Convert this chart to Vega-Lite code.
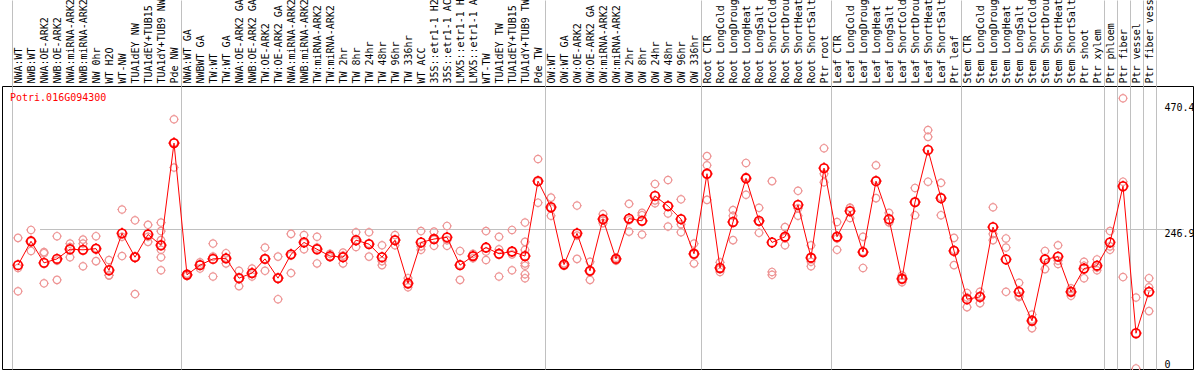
{
  "$schema": "https://vega.github.io/schema/vega-lite/v6.json",
  "width": 1191,
  "height": 283,
  "autosize": {"type": "none"},
  "padding": {"left": 2, "top": 86, "right": 1, "bottom": 1},
  "background": "white",
  "title": {"text": "Potri.016G094300", "orient": "top", "anchor": "start", "frame": "group", "baseline": "top", "offset": 0, "dx": 8, "dy": 122, "color": "#ff0000", "font": "DejaVu Sans Mono", "fontSize": 10, "fontWeight": "normal"},
  "config": {"view": {"stroke": "black", "strokeWidth": 1}, "font": "DejaVu Sans Mono"},
  "datasets": {
    "means": [
      {"cond": "NWA:WT", "v": 183}, {"cond": "NWB:WT", "v": 225}, {"cond": "NWA:OE-ARK2", "v": 187}, {"cond": "NWB:OE-ARK2", "v": 194},
      {"cond": "NWA:miRNA-ARK2", "v": 211}, {"cond": "NWB:miRNA-ARK2", "v": 210}, {"cond": "NW 0hr", "v": 212}, {"cond": "WT H2O", "v": 174},
      {"cond": "WT-NW", "v": 239}, {"cond": "TUA1dEY NW", "v": 197}, {"cond": "TUA1dEY+TUB15 NW", "v": 237}, {"cond": "TUA1dY+TUB9 NW", "v": 218},
      {"cond": "Pde NW", "v": 398}, {"cond": "NWA:WT GA", "v": 166}, {"cond": "NWBWT GA", "v": 183}, {"cond": "TW:WT", "v": 194},
      {"cond": "TW:WT GA", "v": 195}, {"cond": "NWA:OE-ARK2 GA", "v": 160}, {"cond": "NWB:OE-ARK2 GA", "v": 169}, {"cond": "TW:OE-ARK2", "v": 194},
      {"cond": "TW:OE-ARK2 GA", "v": 160}, {"cond": "NWA:miRNA-ARK2 GA", "v": 202}, {"cond": "NWB:miRNA-ARK2 GA", "v": 223}, {"cond": "TW:miRNA-ARK2", "v": 211},
      {"cond": "TW:miRNA-ARK2 ", "v": 199}, {"cond": "TW 2hr", "v": 197}, {"cond": "TW 8hr", "v": 227}, {"cond": "TW 24hr", "v": 220},
      {"cond": "TW 48hr", "v": 197}, {"cond": "TW 96hr", "v": 227}, {"cond": "TW 336hr", "v": 151}, {"cond": "WT ACC", "v": 223},
      {"cond": "35S::etr1-1 H2O", "v": 229}, {"cond": "35S::etr1-1 ACC", "v": 232}, {"cond": "LMX5::etr1-1 H2O", "v": 183}, {"cond": "LMX5::etr1-1 ACC", "v": 199},
      {"cond": "WT-TW", "v": 214}, {"cond": "TUA1dEY TW", "v": 203}, {"cond": "TUA1dEY+TUB15 TW", "v": 207}, {"cond": "TUA1dY+TUB9 TW", "v": 199},
      {"cond": "Pde TW", "v": 331}, {"cond": "OW:WT", "v": 285}, {"cond": "OW:WT GA", "v": 184}, {"cond": "OW:OE-ARK2", "v": 239},
      {"cond": "OW:OE-ARK2 GA", "v": 173}, {"cond": "OW:miRNA-ARK2", "v": 264}, {"cond": "OW:miRNA-ARK2 ", "v": 194}, {"cond": "OW 2hr", "v": 265},
      {"cond": "OW 8hr", "v": 261}, {"cond": "OW 24hr", "v": 305}, {"cond": "OW 48hr", "v": 287}, {"cond": "OW 96hr", "v": 264},
      {"cond": "OW 336hr", "v": 203}, {"cond": "Root CTR", "v": 344}, {"cond": "Root LongCold", "v": 178}, {"cond": "Root LongDrought", "v": 259},
      {"cond": "Root LongHeat", "v": 336}, {"cond": "Root LongSalt", "v": 261}, {"cond": "Root ShortCold", "v": 223}, {"cond": "Root ShortDrought", "v": 233},
      {"cond": "Root ShortHeat", "v": 289}, {"cond": "Root ShortSalt", "v": 196}, {"cond": "Ptr root", "v": 354}, {"cond": "Leaf CTR", "v": 233},
      {"cond": "Leaf LongCold", "v": 278}, {"cond": "Leaf LongDrought", "v": 206}, {"cond": "Leaf LongHeat", "v": 331}, {"cond": "Leaf LongSalt", "v": 264},
      {"cond": "Leaf ShortCold", "v": 159}, {"cond": "Leaf ShortDrought", "v": 294}, {"cond": "Leaf ShortHeat", "v": 386}, {"cond": "Leaf ShortSalt", "v": 301},
      {"cond": "Ptr leaf", "v": 208}, {"cond": "Stem CTR", "v": 123}, {"cond": "Stem LongCold", "v": 127}, {"cond": "Stem LongDrought", "v": 250},
      {"cond": "Stem LongHeat", "v": 193}, {"cond": "Stem LongSalt", "v": 136}, {"cond": "Stem ShortCold", "v": 85}, {"cond": "Stem ShortDrought", "v": 193},
      {"cond": "Stem ShortHeat", "v": 198}, {"cond": "Stem ShortSalt", "v": 136}, {"cond": "Ptr shoot", "v": 177}, {"cond": "Ptr xylem", "v": 182},
      {"cond": "Ptr phloem", "v": 223}, {"cond": "Ptr fiber", "v": 322}, {"cond": "Ptr vessel", "v": 63}, {"cond": "Ptr fiber vessel", "v": 136}
    ],
    "reps": [
      {"cond": "NWA:WT", "v": 231}, {"cond": "NWA:WT", "v": 178}, {"cond": "NWA:WT", "v": 137},
      {"cond": "NWB:WT", "v": 245}, {"cond": "NWB:WT", "v": 225}, {"cond": "NWB:WT", "v": 208},
      {"cond": "NWA:OE-ARK2", "v": 206}, {"cond": "NWA:OE-ARK2", "v": 204}, {"cond": "NWA:OE-ARK2", "v": 151},
      {"cond": "NWB:OE-ARK2", "v": 234}, {"cond": "NWB:OE-ARK2", "v": 191}, {"cond": "NWB:OE-ARK2", "v": 157},
      {"cond": "NWA:miRNA-ARK2", "v": 221}, {"cond": "NWA:miRNA-ARK2", "v": 215}, {"cond": "NWA:miRNA-ARK2", "v": 197},
      {"cond": "NWB:miRNA-ARK2", "v": 228}, {"cond": "NWB:miRNA-ARK2", "v": 221}, {"cond": "NWB:miRNA-ARK2", "v": 181},
      {"cond": "NW 0hr", "v": 234}, {"cond": "NW 0hr", "v": 213}, {"cond": "NW 0hr", "v": 190},
      {"cond": "WT H2O", "v": 192}, {"cond": "WT H2O", "v": 165}, {"cond": "WT H2O", "v": 165},
      {"cond": "WT-NW", "v": 281}, {"cond": "WT-NW", "v": 233}, {"cond": "WT-NW", "v": 199},
      {"cond": "TUA1dEY NW", "v": 262}, {"cond": "TUA1dEY NW", "v": 197}, {"cond": "TUA1dEY NW", "v": 132},
      {"cond": "TUA1dEY+TUB15 NW", "v": 254}, {"cond": "TUA1dEY+TUB15 NW", "v": 233}, {"cond": "TUA1dEY+TUB15 NW", "v": 224},
      {"cond": "TUA1dY+TUB9 NW", "v": 258}, {"cond": "TUA1dY+TUB9 NW", "v": 243}, {"cond": "TUA1dY+TUB9 NW", "v": 227}, {"cond": "TUA1dY+TUB9 NW", "v": 210}, {"cond": "TUA1dY+TUB9 NW", "v": 197}, {"cond": "TUA1dY+TUB9 NW", "v": 174},
      {"cond": "Pde NW", "v": 440}, {"cond": "Pde NW", "v": 399}, {"cond": "Pde NW", "v": 355},
      {"cond": "NWA:WT GA", "v": 168}, {"cond": "NWA:WT GA", "v": 166}, {"cond": "NWA:WT GA", "v": 164},
      {"cond": "NWBWT GA", "v": 188}, {"cond": "NWBWT GA", "v": 184}, {"cond": "NWBWT GA", "v": 177},
      {"cond": "TW:WT", "v": 221}, {"cond": "TW:WT", "v": 198}, {"cond": "TW:WT", "v": 163},
      {"cond": "TW:WT GA", "v": 204}, {"cond": "TW:WT GA", "v": 195}, {"cond": "TW:WT GA", "v": 186},
      {"cond": "NWA:OE-ARK2 GA", "v": 173}, {"cond": "NWA:OE-ARK2 GA", "v": 160}, {"cond": "NWA:OE-ARK2 GA", "v": 146},
      {"cond": "NWB:OE-ARK2 GA", "v": 177}, {"cond": "NWB:OE-ARK2 GA", "v": 168}, {"cond": "NWB:OE-ARK2 GA", "v": 163},
      {"cond": "TW:OE-ARK2", "v": 214}, {"cond": "TW:OE-ARK2", "v": 194}, {"cond": "TW:OE-ARK2", "v": 173},
      {"cond": "TW:OE-ARK2 GA", "v": 198}, {"cond": "TW:OE-ARK2 GA", "v": 160}, {"cond": "TW:OE-ARK2 GA", "v": 123},
      {"cond": "NWA:miRNA-ARK2 GA", "v": 238}, {"cond": "NWA:miRNA-ARK2 GA", "v": 200}, {"cond": "NWA:miRNA-ARK2 GA", "v": 169},
      {"cond": "NWB:miRNA-ARK2 GA", "v": 236}, {"cond": "NWB:miRNA-ARK2 GA", "v": 222}, {"cond": "NWB:miRNA-ARK2 GA", "v": 211},
      {"cond": "TW:miRNA-ARK2", "v": 233}, {"cond": "TW:miRNA-ARK2", "v": 214}, {"cond": "TW:miRNA-ARK2", "v": 186},
      {"cond": "TW:miRNA-ARK2 ", "v": 203}, {"cond": "TW:miRNA-ARK2 ", "v": 197}, {"cond": "TW:miRNA-ARK2 ", "v": 197},
      {"cond": "TW 2hr", "v": 205}, {"cond": "TW 2hr", "v": 200}, {"cond": "TW 2hr", "v": 186},
      {"cond": "TW 8hr", "v": 241}, {"cond": "TW 8hr", "v": 225}, {"cond": "TW 8hr", "v": 215},
      {"cond": "TW 24hr", "v": 241}, {"cond": "TW 24hr", "v": 221}, {"cond": "TW 24hr", "v": 198},
      {"cond": "TW 48hr", "v": 218}, {"cond": "TW 48hr", "v": 190}, {"cond": "TW 48hr", "v": 183},
      {"cond": "TW 96hr", "v": 236}, {"cond": "TW 96hr", "v": 227}, {"cond": "TW 96hr", "v": 218},
      {"cond": "TW 336hr", "v": 160}, {"cond": "TW 336hr", "v": 149}, {"cond": "TW 336hr", "v": 144},
      {"cond": "WT ACC", "v": 243}, {"cond": "WT ACC", "v": 216}, {"cond": "WT ACC", "v": 210},
      {"cond": "35S::etr1-1 H2O", "v": 242}, {"cond": "35S::etr1-1 H2O", "v": 228}, {"cond": "35S::etr1-1 H2O", "v": 217},
      {"cond": "35S::etr1-1 ACC", "v": 252}, {"cond": "35S::etr1-1 ACC", "v": 227}, {"cond": "35S::etr1-1 ACC", "v": 217},
      {"cond": "LMX5::etr1-1 H2O", "v": 208}, {"cond": "LMX5::etr1-1 H2O", "v": 184}, {"cond": "LMX5::etr1-1 H2O", "v": 157},
      {"cond": "LMX5::etr1-1 ACC", "v": 203}, {"cond": "LMX5::etr1-1 ACC", "v": 199}, {"cond": "LMX5::etr1-1 ACC", "v": 195},
      {"cond": "WT-TW", "v": 243}, {"cond": "WT-TW", "v": 207}, {"cond": "WT-TW", "v": 192},
      {"cond": "TUA1dEY TW", "v": 233}, {"cond": "TUA1dEY TW", "v": 211}, {"cond": "TUA1dEY TW", "v": 163},
      {"cond": "TUA1dEY+TUB15 TW", "v": 245}, {"cond": "TUA1dEY+TUB15 TW", "v": 202}, {"cond": "TUA1dEY+TUB15 TW", "v": 174},
      {"cond": "TUA1dY+TUB9 TW", "v": 258}, {"cond": "TUA1dY+TUB9 TW", "v": 224}, {"cond": "TUA1dY+TUB9 TW", "v": 210}, {"cond": "TUA1dY+TUB9 TW", "v": 186}, {"cond": "TUA1dY+TUB9 TW", "v": 182}, {"cond": "TUA1dY+TUB9 TW", "v": 167}, {"cond": "TUA1dY+TUB9 TW", "v": 160},
      {"cond": "Pde TW", "v": 370}, {"cond": "Pde TW", "v": 330}, {"cond": "Pde TW", "v": 293},
      {"cond": "OW:WT", "v": 302}, {"cond": "OW:WT", "v": 283}, {"cond": "OW:WT", "v": 270},
      {"cond": "OW:WT GA", "v": 186}, {"cond": "OW:WT GA", "v": 184}, {"cond": "OW:WT GA", "v": 182},
      {"cond": "OW:OE-ARK2", "v": 288}, {"cond": "OW:OE-ARK2", "v": 235}, {"cond": "OW:OE-ARK2", "v": 194},
      {"cond": "OW:OE-ARK2 GA", "v": 189}, {"cond": "OW:OE-ARK2 GA", "v": 173}, {"cond": "OW:OE-ARK2 GA", "v": 157},
      {"cond": "OW:miRNA-ARK2", "v": 273}, {"cond": "OW:miRNA-ARK2", "v": 262}, {"cond": "OW:miRNA-ARK2", "v": 257},
      {"cond": "OW:miRNA-ARK2 ", "v": 196}, {"cond": "OW:miRNA-ARK2 ", "v": 194}, {"cond": "OW:miRNA-ARK2 ", "v": 191},
      {"cond": "OW 2hr", "v": 291}, {"cond": "OW 2hr", "v": 262}, {"cond": "OW 2hr", "v": 242},
      {"cond": "OW 8hr", "v": 271}, {"cond": "OW 8hr", "v": 275}, {"cond": "OW 8hr", "v": 237},
      {"cond": "OW 24hr", "v": 326}, {"cond": "OW 24hr", "v": 297}, {"cond": "OW 24hr", "v": 292},
      {"cond": "OW 48hr", "v": 333}, {"cond": "OW 48hr", "v": 274}, {"cond": "OW 48hr", "v": 251},
      {"cond": "OW 96hr", "v": 299}, {"cond": "OW 96hr", "v": 255}, {"cond": "OW 96hr", "v": 241},
      {"cond": "OW 336hr", "v": 221}, {"cond": "OW 336hr", "v": 203}, {"cond": "OW 336hr", "v": 186},
      {"cond": "Root CTR", "v": 375}, {"cond": "Root CTR", "v": 359}, {"cond": "Root CTR", "v": 298},
      {"cond": "Root LongCold", "v": 188}, {"cond": "Root LongCold", "v": 176}, {"cond": "Root LongCold", "v": 171},
      {"cond": "Root LongDrought", "v": 280}, {"cond": "Root LongDrought", "v": 270}, {"cond": "Root LongDrought", "v": 227},
      {"cond": "Root LongHeat", "v": 363}, {"cond": "Root LongHeat", "v": 338}, {"cond": "Root LongHeat", "v": 307},
      {"cond": "Root LongSalt", "v": 284}, {"cond": "Root LongSalt", "v": 259}, {"cond": "Root LongSalt", "v": 240},
      {"cond": "Root ShortCold", "v": 331}, {"cond": "Root ShortCold", "v": 171}, {"cond": "Root ShortCold", "v": 166},
      {"cond": "Root ShortDrought", "v": 250}, {"cond": "Root ShortDrought", "v": 231}, {"cond": "Root ShortDrought", "v": 218},
      {"cond": "Root ShortHeat", "v": 314}, {"cond": "Root ShortHeat", "v": 283}, {"cond": "Root ShortHeat", "v": 270},
      {"cond": "Root ShortSalt", "v": 218}, {"cond": "Root ShortSalt", "v": 181}, {"cond": "Root ShortSalt", "v": 189},
      {"cond": "Ptr root", "v": 389}, {"cond": "Ptr root", "v": 344}, {"cond": "Ptr root", "v": 329},
      {"cond": "Leaf CTR", "v": 259}, {"cond": "Leaf CTR", "v": 230}, {"cond": "Leaf CTR", "v": 210},
      {"cond": "Leaf LongCold", "v": 284}, {"cond": "Leaf LongCold", "v": 284}, {"cond": "Leaf LongCold", "v": 266},
      {"cond": "Leaf LongDrought", "v": 233}, {"cond": "Leaf LongDrought", "v": 207}, {"cond": "Leaf LongDrought", "v": 178},
      {"cond": "Leaf LongHeat", "v": 359}, {"cond": "Leaf LongHeat", "v": 333}, {"cond": "Leaf LongHeat", "v": 301},
      {"cond": "Leaf LongSalt", "v": 275}, {"cond": "Leaf LongSalt", "v": 258}, {"cond": "Leaf LongSalt", "v": 259},
      {"cond": "Leaf ShortCold", "v": 165}, {"cond": "Leaf ShortCold", "v": 159}, {"cond": "Leaf ShortCold", "v": 153},
      {"cond": "Leaf ShortDrought", "v": 319}, {"cond": "Leaf ShortDrought", "v": 294}, {"cond": "Leaf ShortDrought", "v": 271},
      {"cond": "Leaf ShortHeat", "v": 421}, {"cond": "Leaf ShortHeat", "v": 409}, {"cond": "Leaf ShortHeat", "v": 330},
      {"cond": "Leaf ShortSalt", "v": 328}, {"cond": "Leaf ShortSalt", "v": 303}, {"cond": "Leaf ShortSalt", "v": 271},
      {"cond": "Ptr leaf", "v": 231}, {"cond": "Ptr leaf", "v": 210}, {"cond": "Ptr leaf", "v": 183},
      {"cond": "Stem CTR", "v": 134}, {"cond": "Stem CTR", "v": 126}, {"cond": "Stem CTR", "v": 109},
      {"cond": "Stem LongCold", "v": 136}, {"cond": "Stem LongCold", "v": 129}, {"cond": "Stem LongCold", "v": 116},
      {"cond": "Stem LongDrought", "v": 285}, {"cond": "Stem LongDrought", "v": 238}, {"cond": "Stem LongDrought", "v": 227},
      {"cond": "Stem LongHeat", "v": 230}, {"cond": "Stem LongHeat", "v": 214}, {"cond": "Stem LongHeat", "v": 136},
      {"cond": "Stem LongSalt", "v": 152}, {"cond": "Stem LongSalt", "v": 129}, {"cond": "Stem LongSalt", "v": 127},
      {"cond": "Stem ShortCold", "v": 96}, {"cond": "Stem ShortCold", "v": 87}, {"cond": "Stem ShortCold", "v": 72},
      {"cond": "Stem ShortDrought", "v": 208}, {"cond": "Stem ShortDrought", "v": 195}, {"cond": "Stem ShortDrought", "v": 176},
      {"cond": "Stem ShortHeat", "v": 218}, {"cond": "Stem ShortHeat", "v": 191}, {"cond": "Stem ShortHeat", "v": 185},
      {"cond": "Stem ShortSalt", "v": 142}, {"cond": "Stem ShortSalt", "v": 137}, {"cond": "Stem ShortSalt", "v": 129},
      {"cond": "Ptr shoot", "v": 189}, {"cond": "Ptr shoot", "v": 182}, {"cond": "Ptr shoot", "v": 160},
      {"cond": "Ptr xylem", "v": 193}, {"cond": "Ptr xylem", "v": 179}, {"cond": "Ptr xylem", "v": 174},
      {"cond": "Ptr phloem", "v": 243}, {"cond": "Ptr phloem", "v": 216}, {"cond": "Ptr phloem", "v": 210},
      {"cond": "Ptr fiber", "v": 477}, {"cond": "Ptr fiber", "v": 330}, {"cond": "Ptr fiber", "v": 162},
      {"cond": "Ptr vessel", "v": 126}, {"cond": "Ptr vessel", "v": 1},
      {"cond": "Ptr fiber vessel", "v": 160}, {"cond": "Ptr fiber vessel", "v": 144}, {"cond": "Ptr fiber vessel", "v": 102}
    ]
  },
  "encoding": {
    "x": {
      "field": "cond", "type": "nominal",
      "scale": {
        "type": "band", "paddingInner": 0, "paddingOuter": 0, "range": [9.5, 1153.5],
        "domain": ["NWA:WT", "NWB:WT", "NWA:OE-ARK2", "NWB:OE-ARK2", "NWA:miRNA-ARK2", "NWB:miRNA-ARK2", "NW 0hr", "WT H2O", "WT-NW", "TUA1dEY NW", "TUA1dEY+TUB15 NW", "TUA1dY+TUB9 NW", "Pde NW", "NWA:WT GA", "NWBWT GA", "TW:WT", "TW:WT GA", "NWA:OE-ARK2 GA", "NWB:OE-ARK2 GA", "TW:OE-ARK2", "TW:OE-ARK2 GA", "NWA:miRNA-ARK2 GA", "NWB:miRNA-ARK2 GA", "TW:miRNA-ARK2", "TW:miRNA-ARK2 ", "TW 2hr", "TW 8hr", "TW 24hr", "TW 48hr", "TW 96hr", "TW 336hr", "WT ACC", "35S::etr1-1 H2O", "35S::etr1-1 ACC", "LMX5::etr1-1 H2O", "LMX5::etr1-1 ACC", "WT-TW", "TUA1dEY TW", "TUA1dEY+TUB15 TW", "TUA1dY+TUB9 TW", "Pde TW", "OW:WT", "OW:WT GA", "OW:OE-ARK2", "OW:OE-ARK2 GA", "OW:miRNA-ARK2", "OW:miRNA-ARK2 ", "OW 2hr", "OW 8hr", "OW 24hr", "OW 48hr", "OW 96hr", "OW 336hr", "Root CTR", "Root LongCold", "Root LongDrought", "Root LongHeat", "Root LongSalt", "Root ShortCold", "Root ShortDrought", "Root ShortHeat", "Root ShortSalt", "Ptr root", "Leaf CTR", "Leaf LongCold", "Leaf LongDrought", "Leaf LongHeat", "Leaf LongSalt", "Leaf ShortCold", "Leaf ShortDrought", "Leaf ShortHeat", "Leaf ShortSalt", "Ptr leaf", "Stem CTR", "Stem LongCold", "Stem LongDrought", "Stem LongHeat", "Stem LongSalt", "Stem ShortCold", "Stem ShortDrought", "Stem ShortHeat", "Stem ShortSalt", "Ptr shoot", "Ptr xylem", "Ptr phloem", "Ptr fiber", "Ptr vessel", "Ptr fiber vessel"]
      },
      "axis": {
        "orient": "top", "title": null, "labelAngle": 270, "labelAlign": "left", "labelBaseline": "middle",
        "labelFont": "DejaVu Sans Mono", "labelFontSize": 10, "labelColor": "black", "labelOverlap": false, "labelLimit": 300,
        "labelPadding": -83, "tickBand": "extent", "ticks": true, "tickSize": 86, "tickColor": "#c0c0c0", "tickWidth": 1,
        "tickOpacity": {"condition": {"test": "datum.extra || indexof(['Pde NW','Pde TW','OW 336hr','Ptr root','Ptr leaf','Ptr xylem','Ptr phloem','Ptr fiber','Ptr vessel','Ptr fiber vessel'], datum.value) >= 0", "value": 1}, "value": 0},
        "grid": true, "gridColor": "#c0c0c0", "gridWidth": 1,
        "gridOpacity": {"condition": {"test": "datum.extra || indexof(['Pde NW','Pde TW','OW 336hr','Ptr root','Ptr leaf','Ptr xylem','Ptr phloem','Ptr fiber','Ptr vessel','Ptr fiber vessel'], datum.value) >= 0", "value": 1}, "value": 0},
        "domain": false
      }
    },
    "y": {
      "field": "v", "type": "quantitative",
      "scale": {"domain": [0, 498.6], "nice": false, "zero": true},
      "axis": {
        "orient": "right", "title": null, "values": [0, 246.9, 470.4], "format": ".1~f",
        "ticks": false, "domain": false, "labelFlush": false,
        "grid": true, "gridColor": "#c0c0c0", "gridWidth": 1,
        "gridOpacity": {"condition": {"test": "datum.value > 246 && datum.value < 248", "value": 1}, "value": 0},
        "labelPadding": -29, "labelAlign": "left",
        "labelBaseline": {"condition": {"test": "datum.value < 1", "value": "bottom"}, "value": "top"},
        "labelFont": "DejaVu Sans Mono", "labelFontSize": 10, "labelColor": "black"
      }
    }
  },
  "layer": [
    {
      "data": {"name": "reps"},
      "mark": {"type": "point", "shape": "M -0.78 0 A 0.78 0.78 0 1 0 0.78 0 A 0.78 0.78 0 1 0 -0.78 0 M 0 -0.78 L 0 -1 M 0 0.78 L 0 1 M -0.78 0 L -1 0 M 0.78 0 L 1 0", "size": 90, "filled": false, "color": "#ee9595", "strokeWidth": 1.2, "opacity": 1}
    },
    {
      "data": {"name": "means"},
      "mark": {"type": "line", "color": "#ff0000", "strokeWidth": 1},
      "encoding": {"order": {"value": null}}
    },
    {
      "data": {"name": "means"},
      "mark": {"type": "point", "shape": "M -0.78 0 A 0.78 0.78 0 1 0 0.78 0 A 0.78 0.78 0 1 0 -0.78 0 M 0 -0.78 L 0 -1 M 0 0.78 L 0 1 M -0.78 0 L -1 0 M 0.78 0 L 1 0", "size": 120, "filled": false, "color": "#ff0000", "strokeWidth": 1.8, "opacity": 1}
    }
  ]
}
